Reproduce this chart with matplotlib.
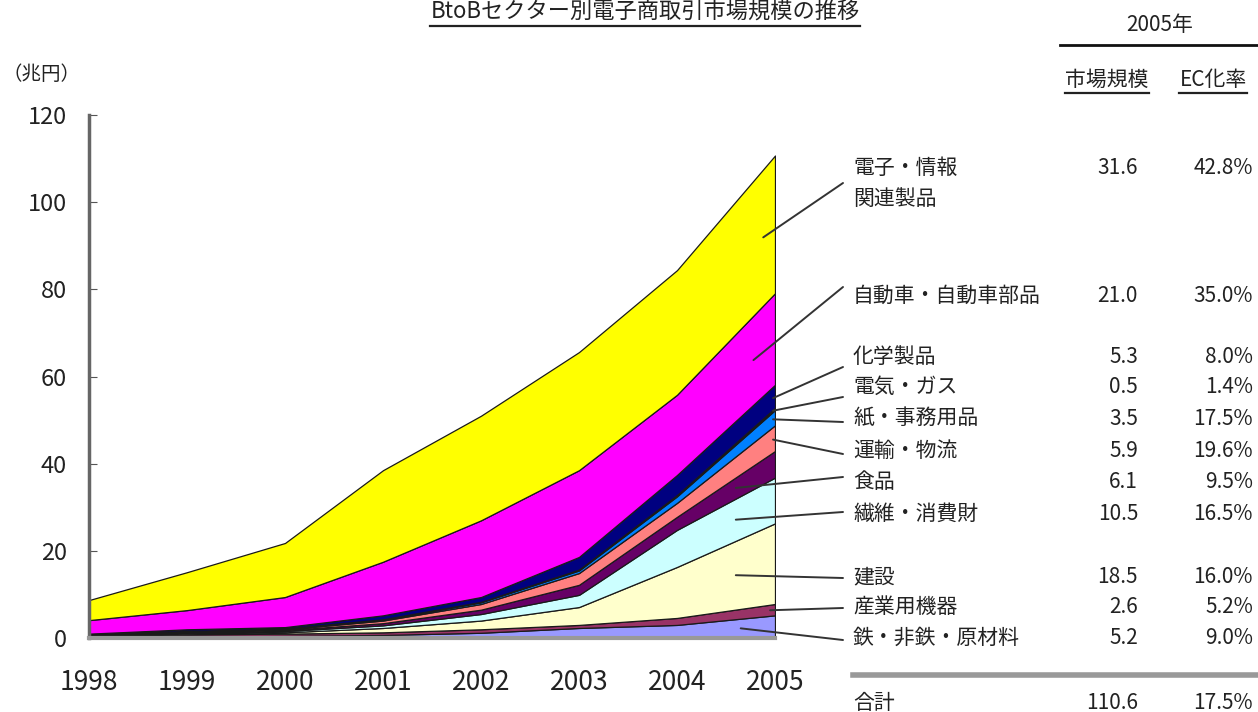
import matplotlib.pyplot as plt
from matplotlib.lines import Line2D
import numpy as np

plt.rcParams['font.family'] = ['Noto Sans CJK JP', 'DejaVu Sans']

W, H = 1258, 712

years = [1998, 1999, 2000, 2001, 2002, 2003, 2004, 2005]

# 市場規模（兆円）  stacked from the bottom up
steel        = [0.3, 0.4, 0.5, 0.7, 1.2, 2.3, 3.0, 5.2]
machinery    = [0.3, 0.4, 0.5, 0.6, 0.8, 0.7, 1.6, 2.6]
construction = [0.1, 0.2, 0.3, 1.0, 2.0, 4.1, 11.7, 18.5]
textile      = [0.1, 0.2, 0.3, 0.6, 1.5, 2.8, 8.5, 10.5]
food         = [0.1, 0.2, 0.2, 0.5, 1.0, 2.3, 3.0, 6.1]
transport    = [0.0, 0.1, 0.2, 0.6, 1.3, 2.7, 3.2, 5.9]
paper        = [0.0, 0.1, 0.1, 0.2, 0.4, 0.6, 1.5, 3.5]
power_gas    = [0.0, 0.0, 0.1, 0.1, 0.1, 0.2, 0.3, 0.5]
chemical     = [0.1, 0.4, 0.3, 0.9, 1.1, 2.9, 4.6, 5.3]
automobile   = [3.1, 4.4, 6.9, 12.3, 17.6, 19.9, 18.4, 21.0]
electronics  = [4.6, 8.7, 12.4, 21.0, 24.0, 27.1, 28.6, 31.6]

layers = [steel, machinery, construction, textile, food, transport,
          paper, power_gas, chemical, automobile, electronics]
names = ['鉄・非鉄・原材料', '産業用機器', '建設', '繊維・消費財', '食品',
         '運輸・物流', '紙・事務用品', '電気・ガス', '化学製品',
         '自動車・自動車部品', '電子・情報\n関連製品']
ec_rate = ['9.0%', '5.2%', '16.0%', '16.5%', '9.5%', '19.6%', '17.5%',
           '1.4%', '8.0%', '35.0%', '42.8%']
colors = ['#9999FF', '#993366', '#FFFFCC', '#CCFFFF', '#660066', '#FF8080',
          '#0080FF', '#101030', '#000080', '#FF00FF', '#FFFF00']

total_2005 = '110.6'
total_rate = '17.5%'

# label rows on the right (pixel y of text centre) and leader line targets
row_y = [638, 607, 577, 514, 482, 451, 419, 387, 357, 296, 168]
lead_end_y = [640, 608, 578, 512, 477, 454, 422, 397, 367, 287, 183]
lead_start_x = [2004.65, 2004.95, 2004.6, 2004.6, 2004.6, 2004.98,
                2004.98, 2004.98, 2004.98, 2004.78, 2004.88]

def fx(x):
    return x / W

def fy(y):
    return 1 - y / H

txt = '#222222'

fig = plt.figure(figsize=(W / 100, H / 100), dpi=100)
ax = fig.add_axes([fx(89), fy(638), 686 / W, 523 / H])

ax.stackplot(years, *layers, colors=colors, edgecolor='#1a1a1a', linewidth=0.9)
ax.set_xlim(1998, 2005)
ax.set_ylim(0, 120)
ax.set_xticks(years)
ax.set_yticks(range(0, 121, 20))
ax.tick_params(axis='y', labelsize=17, labelcolor=txt, length=6, pad=16,
               color='#555555', direction='in')
ax.tick_params(axis='x', labelsize=19, labelcolor=txt, length=0, pad=22)
for s in ['top', 'right']:
    ax.spines[s].set_visible(False)
ax.spines['left'].set_color('#666666')
ax.spines['left'].set_linewidth(2.5)
ax.spines['bottom'].set_color('#999999')
ax.spines['bottom'].set_linewidth(3)
ax.set_facecolor('white')

fig.text(fx(2), fy(74), '（兆円）', fontsize=14, color=txt, va='center', ha='left')

# leader lines from the middle of each band to its label
cum = np.cumsum(np.array(layers), axis=0)
base = np.vstack([np.zeros(len(years)), cum[:-1]])
for i in range(len(layers)):
    x0 = lead_start_x[i]
    lo = np.interp(x0, years, base[i])
    hi = np.interp(x0, years, cum[i])
    ax.annotate('', xy=(x0, (lo + hi) / 2), xycoords='data',
                xytext=(fx(843), fy(lead_end_y[i])), textcoords='figure fraction',
                arrowprops=dict(arrowstyle='-', color='#333333', lw=1.4,
                                shrinkA=0, shrinkB=0),
                annotation_clip=False)

# table of 2005 values
for i in range(len(layers)):
    fig.text(fx(853), fy(row_y[i]), names[i].split('\n')[0], fontsize=15,
             color=txt, va='center', ha='left')
    if '\n' in names[i]:
        fig.text(fx(853), fy(row_y[i] + 31), names[i].split('\n')[1],
                 fontsize=15, color=txt, va='center', ha='left')
    fig.text(fx(1138), fy(row_y[i]), f'{layers[i][-1]:.1f}', fontsize=15,
             color=txt, va='center', ha='right')
    fig.text(fx(1253), fy(row_y[i]), ec_rate[i], fontsize=15,
             color=txt, va='center', ha='right')

fig.add_artist(Line2D([fx(853), fx(1258)], [fy(675), fy(675)],
                      color='#999999', lw=4))
fig.text(fx(853), fy(703), '合計', fontsize=15, color=txt, va='center', ha='left')
fig.text(fx(1138), fy(703), total_2005, fontsize=15, color=txt, va='center', ha='right')
fig.text(fx(1253), fy(703), total_rate, fontsize=15, color=txt, va='center', ha='right')

fig.text(fx(1160), fy(25), '2005年', fontsize=15, color=txt, va='center', ha='center')
fig.add_artist(Line2D([fx(1060), fx(1258)], [fy(45), fy(45)], color='#111111', lw=2))

heads = [fig.text(fx(1107), fy(80), '市場規模', fontsize=15, color=txt,
                  va='center', ha='center'),
         fig.text(fx(1213), fy(80), 'EC化率', fontsize=15, color=txt,
                  va='center', ha='center')]
title = fig.text(fx(645), fy(1), 'BtoBセクター別電子商取引市場規模の推移',
                 fontsize=16, color=txt, va='top', ha='center')

# underline the header cells and the title
fig.canvas.draw()
r = fig.canvas.get_renderer()
inv = fig.transFigure.inverted()
for t in heads + [title]:
    bb = t.get_window_extent(r).transformed(inv)
    yline = bb.y0 - 1.5 / H
    fig.add_artist(Line2D([bb.x0, bb.x1], [yline, yline], color='#222222', lw=1.6))

fig.savefig('out.png', dpi=100, facecolor='white')
